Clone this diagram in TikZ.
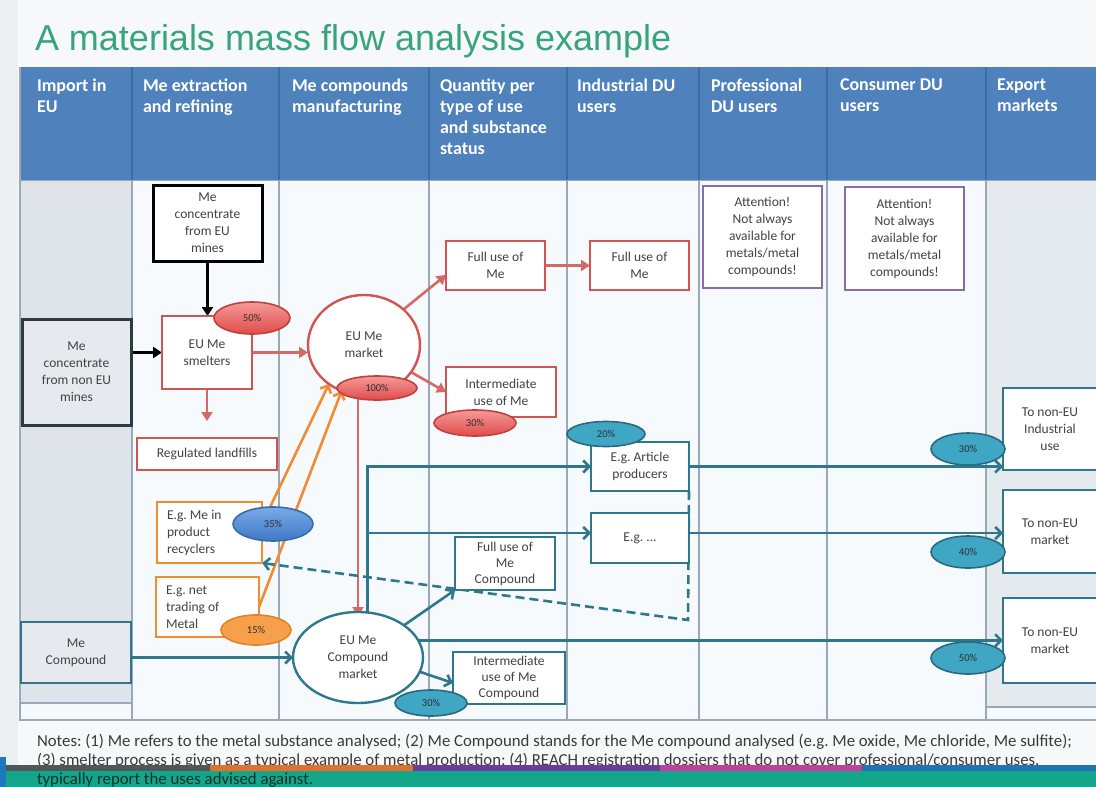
\documentclass[tikz,border=0pt]{standalone}
\usepackage{fontspec}
\setmainfont{Carlito}
\newfontfamily\titlefont{Liberation Sans}
\usetikzlibrary{arrows.meta,shapes.geometric}
\frenchspacing

\definecolor{pagebg}{HTML}{F7F8FA}
\definecolor{sidebg}{HTML}{ECEFF2}
\definecolor{titlegreen}{HTML}{36A47C}
\definecolor{hdrblue}{HTML}{4F81BD}
\definecolor{hdrline}{HTML}{3C6BA6}
\definecolor{gridline}{HTML}{9AA9BA}
\definecolor{cellbg}{HTML}{F7FAFC}
\definecolor{importbg}{HTML}{DEE4EA}
\definecolor{exportbg}{HTML}{E5EAEF}
\definecolor{txt}{HTML}{424242}
\definecolor{redc}{HTML}{CF5452}
\definecolor{redflowc}{HTML}{D46A68}
\definecolor{redpctA}{HTML}{F49A98}
\definecolor{redpctB}{HTML}{E04C4A}
\definecolor{redpctE}{HTML}{C0403E}
\definecolor{tealc}{HTML}{2F788C}
\definecolor{tealpct}{HTML}{3FA6C4}
\definecolor{tealpctE}{HTML}{2A6A80}
\definecolor{orangec}{HTML}{F08C34}
\definecolor{orangepct}{HTML}{F7A04C}
\definecolor{orangepctE}{HTML}{E38225}
\definecolor{bluepctA}{HTML}{7AAAE6}
\definecolor{bluepctB}{HTML}{3F78C8}
\definecolor{bluepctE}{HTML}{3A6AAE}
\definecolor{purplec}{HTML}{8A6BAF}
\definecolor{darkbox}{HTML}{2C3A42}
\definecolor{greybox}{HTML}{E6EAEE}
\definecolor{notetxt}{HTML}{3A3A3A}
\definecolor{bandgreen}{HTML}{13A68A}
\definecolor{bandblue}{HTML}{1F77C0}
\definecolor{stripgrey}{HTML}{4E5858}
\definecolor{striporange}{HTML}{E2702E}
\definecolor{strippurple}{HTML}{6B3C9C}
\definecolor{stripmagenta}{HTML}{C43E9E}
\definecolor{stripblue}{HTML}{2272B4}
\definecolor{pcttxt}{HTML}{2E2E2E}

\pgfdeclarelayer{back}
\pgfdeclarelayer{flows}
\pgfsetlayers{back,flows,main}

\begin{document}
\begin{tikzpicture}[x=1pt,y=-1pt,
  every node/.style={inner sep=0pt,outer sep=0pt},
  hdr/.style={anchor=north west,align=left,text=white,
    font=\bfseries\fontsize{18}{20.8}\selectfont},
  box/.style={draw,line width=2.4pt,fill=white,text=txt,align=center,
    font=\fontsize{13.5}{17}\selectfont},
  redbox/.style={box,draw=redc},
  tealbox/.style={box,draw=tealc},
  purplebox/.style={box,draw=purplec},
  orangebox/.style={box,draw=orangec,align=flush left,inner xsep=10pt},
  market/.style={ellipse,draw,line width=2.4pt,fill=white,text=txt,
    align=center,font=\fontsize{13.5}{17}\selectfont},
  pct/.style={ellipse,line width=1.6pt,text=pcttxt,
    font=\fontsize{10.5}{12}\selectfont},
  redpct/.style={pct,draw=redpctE,top color=redpctA,bottom color=redpctB},
  tealpct/.style={pct,draw=tealpctE,fill=tealpct},
  orangepct/.style={pct,draw=orangepctE,fill=orangepct},
  bluepct/.style={pct,draw=bluepctE,top color=bluepctA,bottom color=bluepctB},
  blackflow/.style={draw=black,line width=3pt,-{Triangle[length=9pt,width=11pt]}},
  redflow/.style={draw=redflowc,line width=2.6pt,-{Triangle[length=9pt,width=11pt]}},
  tealflow/.style={draw=tealc,line width=2.6pt,-{Straight Barb[length=6pt,width=12pt]}},
  orangeflow/.style={draw=orangec,line width=2.6pt,-{Straight Barb[length=6pt,width=12pt]}},
  returnflow/.style={draw=tealc,line width=2.6pt,dash pattern=on 9pt off 5pt,
    -{Straight Barb[length=6pt,width=12pt]}},
  note/.style={anchor=base west,text=notetxt,font=\fontsize{16.8}{19}\selectfont}
]
\useasboundingbox (0,0) rectangle (1096,787);

% ---------- page and table background ----------
\begin{pgfonlayer}{back}
  \fill[pagebg] (0,0) rectangle (1096,787);
  \fill[sidebg] (0,0) rectangle (18,787);
  % body cells
  \fill[cellbg] (20,180) rectangle (1096,720);
  \fill[importbg] (20,180) rectangle (132,703);
  \fill[exportbg] (986,180) rectangle (1096,707);
  \draw[gridline,line width=1.5pt] (20,703) -- (132,703);
  \draw[gridline,line width=1.5pt] (986,707) -- (1096,707);
  % header band
  \fill[hdrblue] (20,67) rectangle (1096,180);
  \foreach \cx in {132,279,429,567,699,827,986}{
    \draw[hdrline,line width=1.5pt] (\cx,67) -- (\cx,180);
    \draw[gridline,line width=1.5pt] (\cx,180) -- (\cx,720);
  }
  \draw[gridline,line width=1.5pt] (20,67) -- (20,720) -- (1096,720);
  \draw[gridline,line width=1pt] (20,180) -- (1096,180);
\end{pgfonlayer}

% ---------- title ----------
\node[anchor=base west,text=titlegreen,font=\titlefont\fontsize{36}{40}\selectfont]
  (title) at (35,50) {A materials mass flow analysis example};

% ---------- column headings ----------
\node[hdr] (h1) at (37,79)  {Import in\\EU};
\node[hdr] (h2) at (143,79) {Me extraction\\and refining};
\node[hdr] (h3) at (292,79) {Me compounds\\manufacturing};
\node[hdr] (h4) at (440,79) {Quantity per\\type of use\\and substance\\status};
\node[hdr] (h5) at (577,79) {Industrial DU\\users};
\node[hdr] (h6) at (711,79) {Professional\\DU users};
\node[hdr] (h7) at (840,79) {Consumer DU\\users};
\node[hdr] (h8) at (997,79) {Export\\markets};

% ---------- metal chain ----------
\node[box,draw=black,line width=3pt,minimum width=109,minimum height=76]
  (mines) at (207.5,223) {Me\\concentrate\\from EU\\mines};
\node[box,draw=darkbox,fill=greybox,line width=3pt,minimum width=109,minimum height=106]
  (nonmines) at (76.5,372) {Me\\concentrate\\from non EU\\mines};
\node[redbox,minimum width=90,minimum height=73] (smelt) at (207,352.5) {EU Me\\smelters};
\node[redbox,minimum width=140,minimum height=32] (landfill) at (207,454) {Regulated landfills};
\node[market,draw=redc,minimum width=112,minimum height=100] (mkt) at (364,345) {EU Me\\market};
\node[redbox,minimum width=99,minimum height=49] (full1) at (495.5,265.5) {Full use of\\Me};
\node[redbox,minimum width=99,minimum height=49] (full2) at (639.5,265.5) {Full use of\\Me};
\node[redbox,minimum width=110,minimum height=50] (inter) at (501,392) {Intermediate\\use of Me};
\node[purplebox,minimum width=119,minimum height=102] (att1) at (762.5,237)
  {Attention!\\Not always\\available for\\metals/metal\\compounds!};
\node[purplebox,minimum width=119,minimum height=103] (att2) at (904.5,238.5)
  {Attention!\\Not always\\available for\\metals/metal\\compounds!};

% ---------- secondary metal ----------
\node[orangebox,text width=85,minimum height=61] (recyc) at (209.5,532.5) {E.g. Me in\\product\\recyclers};
\node[orangebox,text width=83,minimum height=60] (trade) at (207.5,607) {E.g. net\\trading of\\Metal};

% ---------- compound chain ----------
\node[tealbox,fill=greybox,minimum width=110,minimum height=61] (cimp) at (76,652.5) {Me\\Compound};
\node[market,draw=tealc,minimum width=130,minimum height=91] (cmkt) at (358,657.5) {EU Me\\Compound\\market};
\node[tealbox,minimum width=98,minimum height=49] (art) at (640,466.5) {E.g. Article\\producers};
\node[tealbox,minimum width=98,minimum height=50] (eg) at (640,538) {E.g. ...};
\node[tealbox,minimum width=100,minimum height=53,font=\fontsize{13.5}{16}\selectfont]
  (fullc) at (505,563.5) {Full use of\\Me\\Compound};
\node[tealbox,minimum width=112,minimum height=52,font=\fontsize{13.5}{16}\selectfont]
  (interc) at (509,678) {Intermediate\\use of Me\\Compound};
\node[tealbox,minimum width=94,minimum height=82] (exp1) at (1050,429) {To non-EU\\Industrial\\use};
\node[tealbox,minimum width=94,minimum height=83] (exp2) at (1050,531.5) {To non-EU\\market};
\node[tealbox,minimum width=94,minimum height=85] (exp3) at (1050,640.5) {To non-EU\\market};

% ---------- flows ----------
\begin{pgfonlayer}{flows}
  \draw[blackflow] (mines.south) -- (mines.south |- smelt.north);
  \draw[blackflow] (nonmines.east |- smelt.west) -- (smelt.west);
  \draw[redflow] (smelt.east) -- (mkt.west |- smelt.east);
  \draw[redflow,shorten >=17pt] (smelt.south) -- (landfill.north);
  \draw[redflow] (mkt.42) -- ([yshift=15pt]full1.south west);
  \draw[redflow] (mkt.-30) -- (inter.west);
  \draw[redflow] (full1.east) -- (full2.west);
  \draw[redflow] (cmkt.north |- mkt.south) -- ([yshift=-4pt]cmkt.north);
  % secondary metal into the EU market
  \draw[orangeflow] ([yshift=-22pt]recyc.north east) -- (mkt.228);
  \draw[orangeflow] (trade.east) -- (mkt.244);
  % compound flows
  \coordinate (egin) at ([yshift=5pt]eg.west);
  \coordinate (egout) at ([yshift=5pt]eg.east);
  \draw[tealflow] (cimp.east |- cmkt.west) -- (cmkt.west);
  \draw[tealflow] (cmkt.78) |- (art.west);
  \draw[tealflow] (cmkt.78 |- egin) -- (egin);
  \draw[tealflow] (cmkt.35) -- (fullc.south west);
  \draw[tealflow] (cmkt.-13) -- ([yshift=-5pt]interc.west);
  \draw[tealflow] (art.east) -- (exp1.west |- art.east);
  \draw[tealflow] (egout) -- (exp2.west |- egout);
  \draw[tealflow] (cmkt.16) -- (cmkt.16 -| exp3.west);
  % material returned to recycling
  \coordinate (retcorner) at (688,620);
  \draw[returnflow] (art.south east) -- (retcorner) -- (recyc.south east);
\end{pgfonlayer}

% ---------- shares ----------
\node[redpct,minimum width=76,minimum height=32] (p50) at (252,318) {50\%};
\node[redpct,minimum width=80,minimum height=24] (p100) at (377,388) {100\%};
\node[redpct,minimum width=82,minimum height=26] (p30r) at (475,423) {30\%};
\node[bluepct,minimum width=80,minimum height=34] (p35) at (273,524) {35\%};
\node[orangepct,minimum width=70,minimum height=30] (p15) at (256,630) {15\%};
\node[tealpct,minimum width=78,minimum height=25] (p20) at (606,434) {20\%};
\node[tealpct,minimum width=74,minimum height=32] (p30e) at (968,449) {30\%};
\node[tealpct,minimum width=74,minimum height=32] (p40) at (968,552) {40\%};
\node[tealpct,minimum width=74,minimum height=32] (p50e) at (968,658) {50\%};
\node[tealpct,minimum width=72,minimum height=26] (p30c) at (431,703) {30\%};

% ---------- notes and footer band ----------
\node[note] (n1) at (37,746) {Notes: (1) Me refers to the metal substance analysed; (2) Me Compound stands for the Me compound analysed (e.g. Me oxide, Me chloride, Me sulfite);};
\node[note] (n2) at (37,765) {(3) smelter process is given as a typical example of metal production; (4) REACH registration dossiers that do not cover professional/consumer uses,};
\fill[bandblue] (0,757) rectangle (6,787);
\fill[stripgrey] (6,765) rectangle (210,771);
\fill[striporange] (210,765) rectangle (413,771);
\fill[strippurple] (413,765) rectangle (660,771);
\fill[stripmagenta] (660,765) rectangle (862,771);
\fill[stripblue] (862,765) rectangle (1096,771);
\fill[bandgreen] (6,771) rectangle (1096,787);
\node[note,text=black!70!bandgreen] (n3) at (37,784) {typically report the uses advised against.};
\end{tikzpicture}
\end{document}
